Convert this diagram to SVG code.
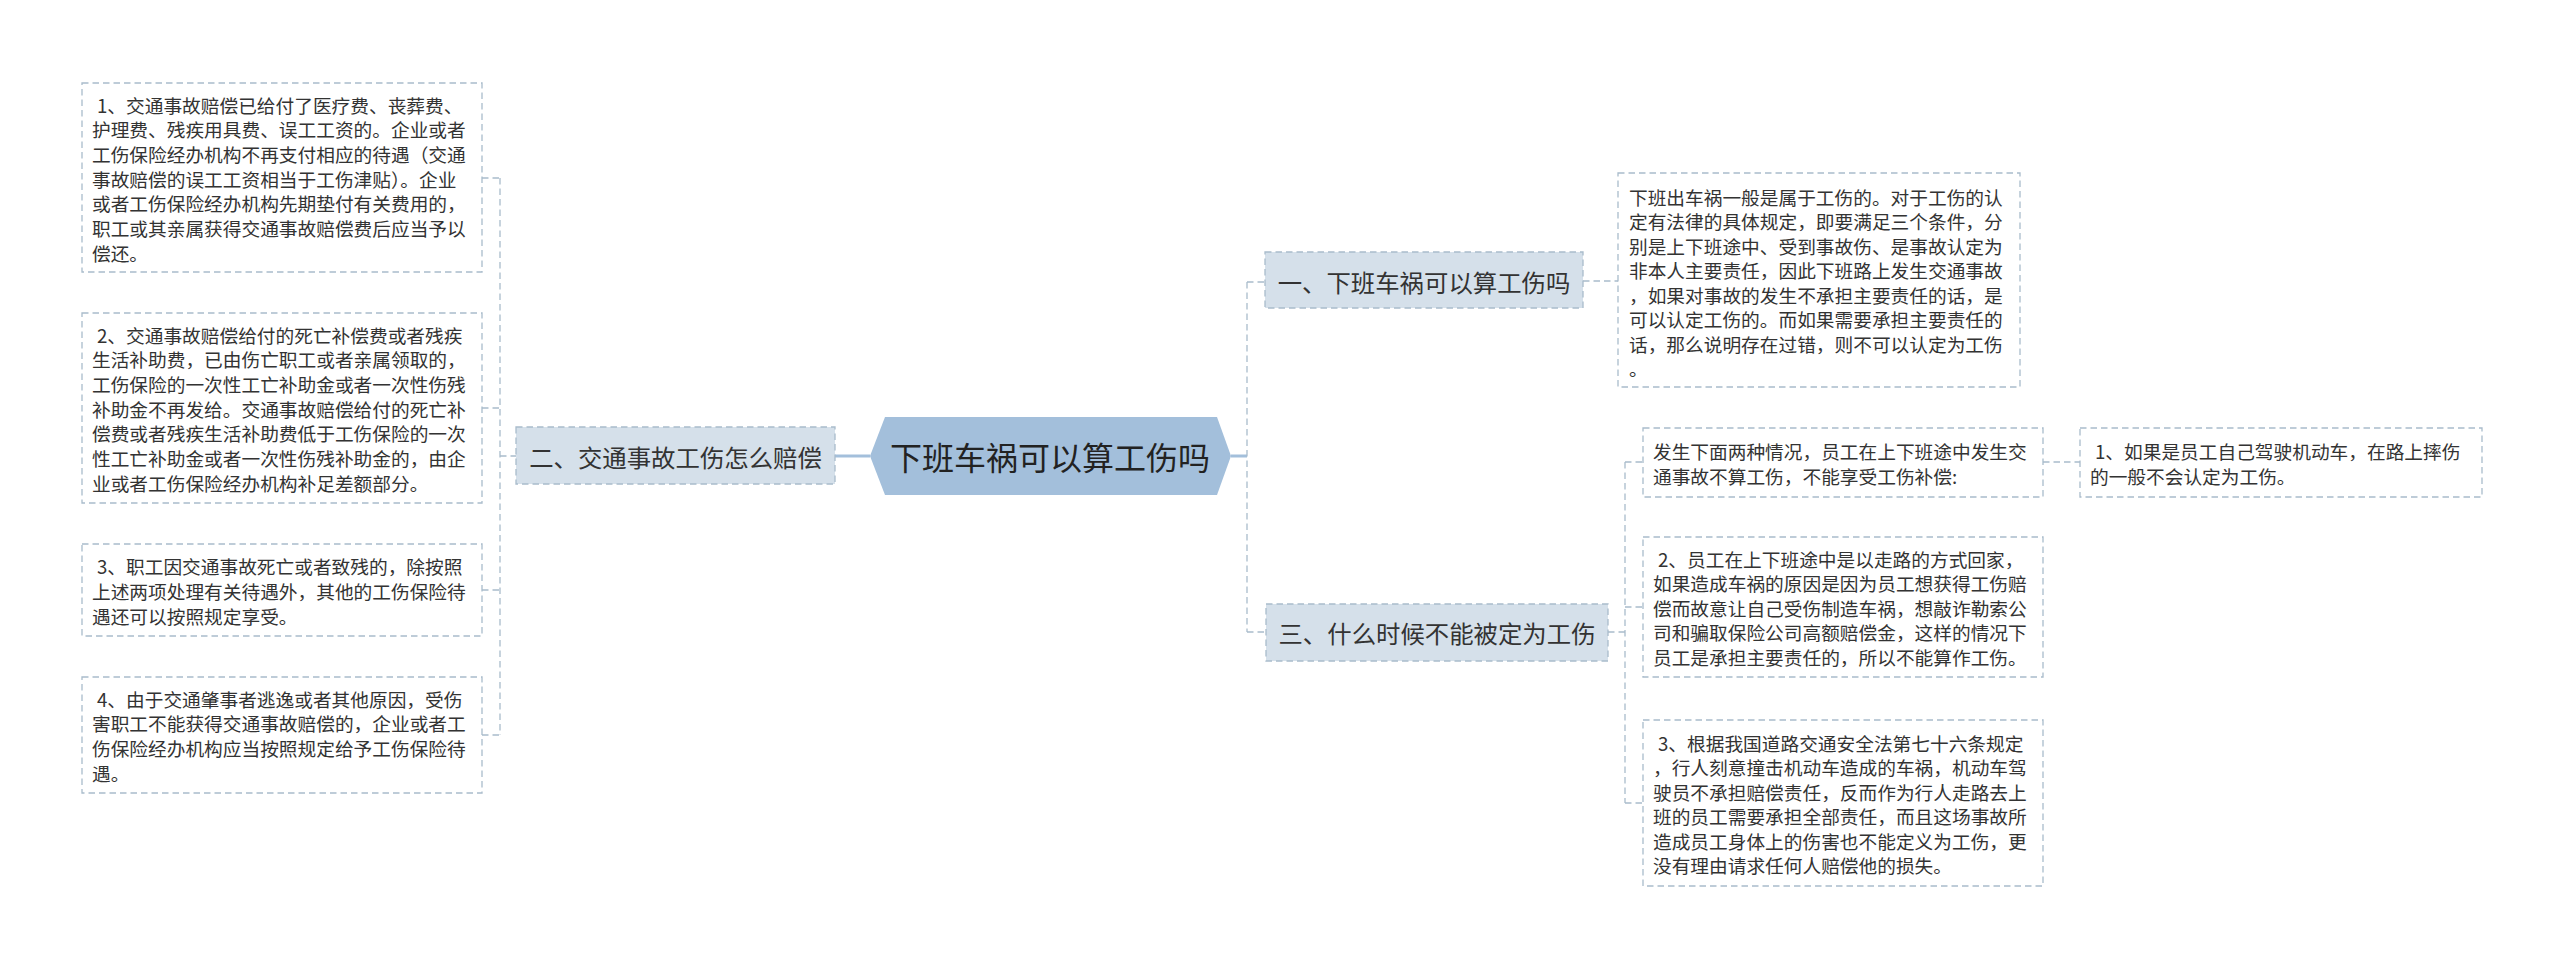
<svg xmlns="http://www.w3.org/2000/svg" width="2560" height="967" viewBox="0 0 2560 967">
<style>
text{font-family:"Noto Sans CJK SC","Noto Sans",sans-serif;fill:#333;dominant-baseline:central}
.b{font-size:18.7px}
.m{font-size:24.4px;text-anchor:middle}
.r{font-size:32px;text-anchor:middle;fill:#222}
.box{fill:#fff;stroke:#a9bccb;stroke-width:1.3;stroke-dasharray:6.5 4}
.lvl{fill:#d5e0ea;stroke:#a9bccb;stroke-width:1.3;stroke-dasharray:6.5 4}
.dl{fill:none;stroke:#a9bccb;stroke-width:1.3;stroke-dasharray:6.5 4}
.sl{fill:none;stroke:#a3bfdb;stroke-width:3}
</style>
<rect width="2560" height="967" fill="#fff"/>
<g id="connectors">
<path class="sl" d="M835,456H870M1231,456H1247"/>
<path class="dl" d="M500,178V735M482,178H500M482,408H500M482,590H500M482,735H500M500,456H516"/>
<path class="dl" d="M1247,282V632M1247,282H1265M1247,632H1266M1583,281H1618"/>
<path class="dl" d="M1625,462V803M1608,632H1625M1625,462H1643M1625,607H1643M1625,803H1643M2043,462H2080"/>
</g>
<g id="root">
<polygon points="870,456 885,417 1217,417 1231,456 1217,495 885,495" fill="#a3bfdb"/>
<text class="r" x="1050" y="456">下班车祸可以算工伤吗</text>
</g>
<g id="n1">
<rect class="lvl" x="1265" y="252" width="318" height="56"/>
<text class="m" x="1424" y="281">一、下班车祸可以算工伤吗</text>
</g>
<g id="n2">
<rect class="lvl" x="516" y="427" width="319" height="57"/>
<text class="m" x="675.5" y="456">二、交通事故工伤怎么赔偿</text>
</g>
<g id="n3">
<rect class="lvl" x="1266" y="604" width="342" height="57"/>
<text class="m" x="1437" y="632">三、什么时候不能被定为工伤</text>
</g>
<g id="t1">
<rect class="box" x="1618" y="173" width="402" height="214"/>
<text class="b" x="1629" y="196">下班出车祸一般是属于工伤的。对于工伤的认</text>
<text class="b" x="1629" y="220.5">定有法律的具体规定，即要满足三个条件，分</text>
<text class="b" x="1629" y="245">别是上下班途中、受到事故伤、是事故认定为</text>
<text class="b" x="1629" y="269.5">非本人主要责任，因此下班路上发生交通事故</text>
<text class="b" x="1629" y="294">，如果对事故的发生不承担主要责任的话，是</text>
<text class="b" x="1629" y="318.5">可以认定工伤的。而如果需要承担主要责任的</text>
<text class="b" x="1629" y="343">话，那么说明存在过错，则不可以认定为工伤</text>
<text class="b" x="1629" y="367.5">。</text>
</g>
<g id="l1">
<rect class="box" x="82" y="83" width="400" height="189"/>
<text class="b" x="97" y="104">1、交通事故赔偿已给付了医疗费、丧葬费、</text>
<text class="b" x="92" y="128.7">护理费、残疾用具费、误工工资的。企业或者</text>
<text class="b" x="92" y="153.4">工伤保险经办机构不再支付相应的待遇（交通</text>
<text class="b" x="92" y="178.1">事故赔偿的误工工资相当于工伤津贴）。企业</text>
<text class="b" x="92" y="202.8">或者工伤保险经办机构先期垫付有关费用的，</text>
<text class="b" x="92" y="227.5">职工或其亲属获得交通事故赔偿费后应当予以</text>
<text class="b" x="92" y="252.2">偿还。</text>
</g>
<g id="l2">
<rect class="box" x="82" y="313" width="400" height="190"/>
<text class="b" x="97" y="334">2、交通事故赔偿给付的死亡补偿费或者残疾</text>
<text class="b" x="92" y="358.7">生活补助费，已由伤亡职工或者亲属领取的，</text>
<text class="b" x="92" y="383.4">工伤保险的一次性工亡补助金或者一次性伤残</text>
<text class="b" x="92" y="408.1">补助金不再发给。交通事故赔偿给付的死亡补</text>
<text class="b" x="92" y="432.8">偿费或者残疾生活补助费低于工伤保险的一次</text>
<text class="b" x="92" y="457.5">性工亡补助金或者一次性伤残补助金的，由企</text>
<text class="b" x="92" y="482.2">业或者工伤保险经办机构补足差额部分。</text>
</g>
<g id="l3">
<rect class="box" x="82" y="544" width="400" height="92"/>
<text class="b" x="97" y="565">3、职工因交通事故死亡或者致残的，除按照</text>
<text class="b" x="92" y="590">上述两项处理有关待遇外，其他的工伤保险待</text>
<text class="b" x="92" y="615">遇还可以按照规定享受。</text>
</g>
<g id="l4">
<rect class="box" x="82" y="677" width="400" height="116"/>
<text class="b" x="97" y="698">4、由于交通肇事者逃逸或者其他原因，受伤</text>
<text class="b" x="92" y="722.7">害职工不能获得交通事故赔偿的，企业或者工</text>
<text class="b" x="92" y="747.4">伤保险经办机构应当按照规定给予工伤保险待</text>
<text class="b" x="92" y="772.1">遇。</text>
</g>
<g id="r1">
<rect class="box" x="1643" y="428" width="400" height="69"/>
<text class="b" x="1653" y="450">发生下面两种情况，员工在上下班途中发生交</text>
<text class="b" x="1653" y="475">通事故不算工伤，不能享受工伤补偿:</text>
</g>
<g id="r1a">
<rect class="box" x="2080" y="428" width="402" height="69"/>
<text class="b" x="2095" y="450">1、如果是员工自己驾驶机动车，在路上摔伤</text>
<text class="b" x="2090" y="475">的一般不会认定为工伤。</text>
</g>
<g id="r2">
<rect class="box" x="1643" y="537" width="400" height="140"/>
<text class="b" x="1658" y="558">2、员工在上下班途中是以走路的方式回家，</text>
<text class="b" x="1653" y="582.5">如果造成车祸的原因是因为员工想获得工伤赔</text>
<text class="b" x="1653" y="607">偿而故意让自己受伤制造车祸，想敲诈勒索公</text>
<text class="b" x="1653" y="631.5">司和骗取保险公司高额赔偿金，这样的情况下</text>
<text class="b" x="1653" y="656">员工是承担主要责任的，所以不能算作工伤。</text>
</g>
<g id="r3">
<rect class="box" x="1643" y="720" width="400" height="166"/>
<text class="b" x="1658" y="742">3、根据我国道路交通安全法第七十六条规定</text>
<text class="b" x="1653" y="766.5">，行人刻意撞击机动车造成的车祸，机动车驾</text>
<text class="b" x="1653" y="791">驶员不承担赔偿责任，反而作为行人走路去上</text>
<text class="b" x="1653" y="815.5">班的员工需要承担全部责任，而且这场事故所</text>
<text class="b" x="1653" y="840">造成员工身体上的伤害也不能定义为工伤，更</text>
<text class="b" x="1653" y="864.5">没有理由请求任何人赔偿他的损失。</text>
</g>
</svg>
